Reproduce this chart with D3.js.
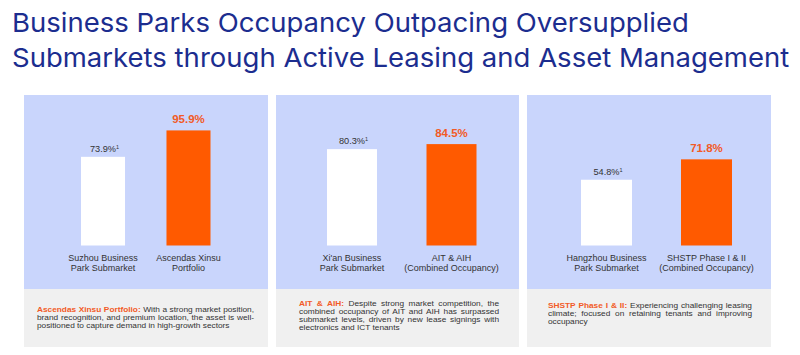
<!DOCTYPE html>
<html>
<head>
<meta charset="utf-8">
<script src="https://cdn.jsdelivr.net/npm/d3@7/dist/d3.min.js"></script>
<style>
  html, body { margin: 0; padding: 0; background: #ffffff; }
  svg { display: block; }
</style>
</head>
<body>
<script>
// ---------- DATA ----------
const titleLines = [
  "Business Parks Occupancy Outpacing Oversupplied",
  "Submarkets through Active Leasing and Asset Management"
];
const submarketLabels = [
  ["Suzhou Business", "Park Submarket"],
  ["Xi'an Business", "Park Submarket"],
  ["Hangzhou Business", "Park Submarket"]
];
const portfolioLabels = [
  ["Ascendas Xinsu", "Portfolio"],
  ["AIT & AIH", "(Combined Occupancy)"],
  ["SHSTP Phase I & II", "(Combined Occupancy)"]
];
const submarketValues = [73.9, 80.3, 54.8];
const portfolioValues = [95.9, 84.5, 71.8];
const noteTitles = ["Ascendas Xinsu Portfolio:", "AIT & AIH:", "SHSTP Phase I & II:"];
const noteLines = [
  ["With a strong market position,",
   "brand recognition, and premium location, the asset is well-",
   "positioned to capture demand in high-growth sectors"],
  ["Despite strong market competition, the",
   "combined occupancy of AIT and AIH has surpassed",
   "submarket levels, driven by new lease signings with",
   "electronics and ICT tenants"],
  ["Experiencing challenging leasing",
   "climate; focused on retaining tenants and improving",
   "occupancy"]
];

// ---------- LAYOUT ----------
const W = 800, H = 355;
const panelX = [24, 276, 527], panelW = [244, 243, 244];
const blueTop = 95, blueBottom = 289, greyBottom = 347;
const bandRange = [[57, 186.5], [51, 200.5], [54, 205]];
const bandPad = [0.485, 0.4975, 0.49];
const noteInset = [[13, 14], [23, 20], [21, 19]];
const noteFirstBaseline = [312, 306, 307.5];
const noteLineGap = 8;

const BLUE = "#c9d5fc", GREY = "#f0f0f0", ORANGE = "#ff5a00", ORANGE_TXT = "#f25a26";
const TEXT = "#333333", TITLE = "#1c2d8f";
const BODY_FONT = "'Liberation Sans', Arial, sans-serif";

const svg = d3.select("body").append("svg").attr("width", W).attr("height", H);

// ---------- TITLE ----------
const titleG = svg.append("g");
const tBase = [32, 67];
const titleTargetW = 677;
const t0 = titleG.append("text").attr("font-family", "Inter, sans-serif")
  .attr("font-size", 26).text(titleLines[0]);
const meas = t0.node().getComputedTextLength();
t0.remove();
const tSize = 26 * titleTargetW / meas;
const tK = 19 / (0.727 * tSize);
titleLines.forEach((ln, i) => {
  titleG.append("text")
    .attr("transform", `translate(12,${tBase[i]}) scale(1,${tK})`)
    .attr("font-family", "Inter, sans-serif")
    .attr("font-size", tSize)
    .attr("fill", TITLE)
    .text(ln);
});

// ---------- PANELS ----------
const y = d3.scaleLinear().domain([0, 100]).range([245.5, 125.5]);

panelX.forEach((px, i) => {
  const g = svg.append("g").attr("transform", `translate(${px},0)`);
  g.append("rect").attr("x", 0).attr("y", blueTop).attr("width", panelW[i])
    .attr("height", blueBottom - blueTop).attr("fill", BLUE);
  g.append("rect").attr("x", 0).attr("y", blueBottom).attr("width", panelW[i])
    .attr("height", greyBottom - blueBottom).attr("fill", GREY);

  const x = d3.scaleBand().domain([0, 1]).range(bandRange[i])
    .paddingInner(bandPad[i]).paddingOuter(0);

  const rows = [
    { k: 0, v: submarketValues[i], lab: submarketLabels[i], fill: "#ffffff" },
    { k: 1, v: portfolioValues[i], lab: portfolioLabels[i], fill: ORANGE }
  ];

  g.selectAll("rect.bar").data(rows).enter().append("rect")
    .attr("class", "bar")
    .attr("x", d => x(d.k))
    .attr("y", d => y(d.v))
    .attr("width", x.bandwidth())
    .attr("height", d => y(0) - y(d.v))
    .attr("fill", d => d.fill);

  // value labels
  rows.forEach(d => {
    const cx = x(d.k) + x.bandwidth() / 2;
    if (d.k === 0) {
      const t = g.append("text")
        .attr("x", cx + 1.5).attr("y", y(d.v) - 5)
        .attr("text-anchor", "middle")
        .attr("font-family", BODY_FONT).attr("font-size", 9.2)
        .attr("fill", TEXT);
      t.append("tspan").text(d3.format(".1f")(d.v) + "%");
      t.append("tspan").attr("font-size", 5.5).attr("dy", -3.2).text("1");
    } else {
      g.append("text")
        .attr("x", cx).attr("y", y(d.v) - 7)
        .attr("text-anchor", "middle")
        .attr("font-family", BODY_FONT).attr("font-size", 11.5)
        .attr("font-weight", "bold")
        .attr("fill", ORANGE_TXT)
        .text(d3.format(".1f")(d.v) + "%");
    }
    d.lab.forEach((ln, j) => {
      g.append("text")
        .attr("x", cx).attr("y", 260.7 + j * 10.6)
        .attr("text-anchor", "middle")
        .attr("font-family", BODY_FONT).attr("font-size", 9)
        .attr("fill", TEXT)
        .text(ln);
    });
  });

  // notes (justified)
  const left = noteInset[i][0], right = panelW[i] - noteInset[i][1];
  const target = right - left;
  const nK = 0.95;
  noteLines[i].forEach((ln, j) => {
    const t = g.append("text")
      .attr("transform", `translate(${left},${noteFirstBaseline[i] + j * noteLineGap}) scale(1,${nK})`)
      .attr("font-family", BODY_FONT).attr("font-size", 8.3)
      .attr("fill", TEXT);
    let full = ln;
    if (j === 0) {
      t.append("tspan").attr("fill", ORANGE_TXT).attr("font-weight", "bold").text(noteTitles[i] + " ");
      full = noteTitles[i] + " " + ln;
    }
    t.append("tspan").text(ln);
    if (j < noteLines[i].length - 1) {
      const w = t.node().getComputedTextLength();
      const spaces = (full.match(/ /g) || []).length;
      if (spaces > 0) t.attr("word-spacing", (target - w) / spaces);
    }
  });
});
</script>
</body>
</html>
